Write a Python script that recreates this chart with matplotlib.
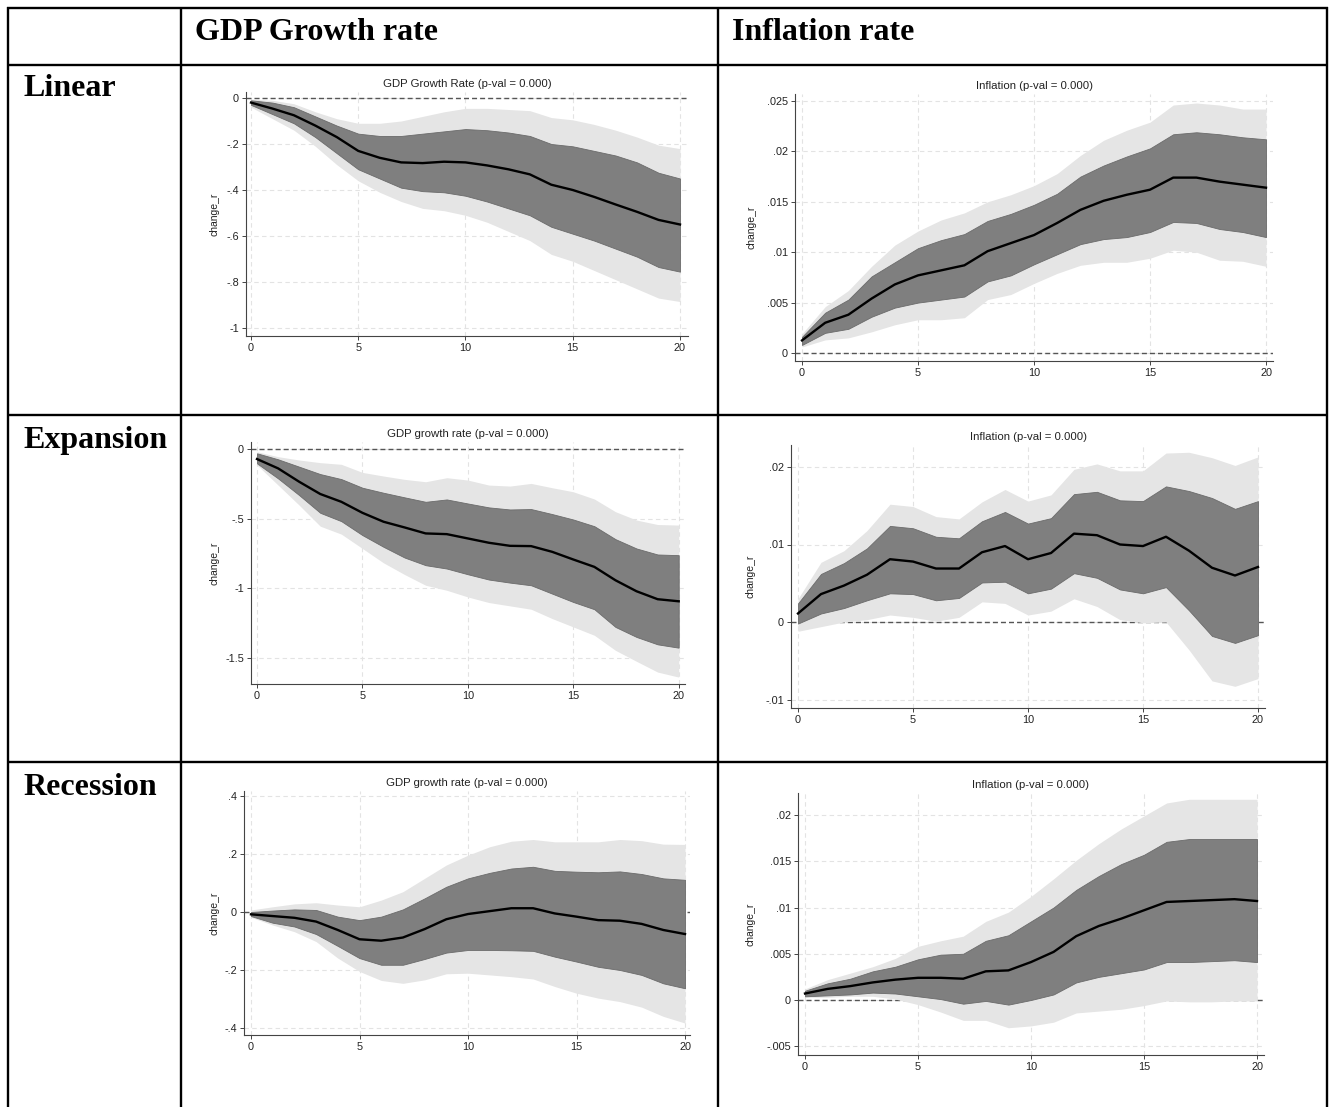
import matplotlib
matplotlib.use("Agg")
import matplotlib.pyplot as plt
from matplotlib.lines import Line2D

W, H = 1331, 1107
horizon = list(range(21))

# ---- GDP growth rate, linear model ----
gdp_lin_mean = [-0.02, -0.046, -0.075, -0.12, -0.17, -0.23, -0.26, -0.28, -0.283, -0.277, -0.28,
                -0.293, -0.31, -0.332, -0.377, -0.40, -0.43, -0.463, -0.495, -0.53, -0.55]
gdp_lin_in_hi = [-0.01, -0.02, -0.04, -0.08, -0.12, -0.155, -0.165, -0.165, -0.155, -0.145, -0.135,
                 -0.14, -0.15, -0.165, -0.20, -0.21, -0.23, -0.25, -0.28, -0.325, -0.35]
gdp_lin_in_lo = [-0.03, -0.07, -0.11, -0.17, -0.24, -0.31, -0.35, -0.39, -0.405, -0.41, -0.425,
                 -0.45, -0.48, -0.51, -0.56, -0.59, -0.62, -0.655, -0.69, -0.735, -0.755]
gdp_lin_out_hi = [-0.005, -0.01, -0.025, -0.06, -0.09, -0.11, -0.11, -0.10, -0.08, -0.06, -0.045,
                  -0.045, -0.05, -0.055, -0.085, -0.095, -0.115, -0.14, -0.17, -0.205, -0.22]
gdp_lin_out_lo = [-0.04, -0.09, -0.14, -0.21, -0.29, -0.36, -0.41, -0.45, -0.48, -0.49, -0.51,
                  -0.54, -0.58, -0.62, -0.68, -0.71, -0.75, -0.79, -0.83, -0.87, -0.885]

# ---- Inflation, linear model ----
inf_lin_mean = [0.00125, 0.003, 0.0038, 0.0054, 0.0068, 0.0077, 0.0082, 0.0087, 0.0101, 0.0109, 0.0117,
                0.0129, 0.0142, 0.0151, 0.0157, 0.0162, 0.0174, 0.0174, 0.0170, 0.0167, 0.0164]
inf_lin_in_hi = [0.0016, 0.0040, 0.0053, 0.0076, 0.0090, 0.0104, 0.0112, 0.0118, 0.0131, 0.0138, 0.0147,
                 0.0158, 0.0175, 0.0186, 0.0195, 0.0203, 0.0217, 0.0219, 0.0217, 0.0214, 0.0212]
inf_lin_in_lo = [0.0008, 0.0020, 0.0024, 0.0036, 0.0045, 0.0050, 0.0053, 0.0056, 0.0071, 0.0077, 0.0088,
                 0.0098, 0.0108, 0.0113, 0.0115, 0.0120, 0.0130, 0.0129, 0.0123, 0.0120, 0.0115]
inf_lin_out_hi = [0.0019, 0.0046, 0.0062, 0.0086, 0.0107, 0.0121, 0.0132, 0.0139, 0.0150, 0.0157, 0.0166,
                  0.0178, 0.0196, 0.0211, 0.0221, 0.0229, 0.0246, 0.0248, 0.0246, 0.0242, 0.0242]
inf_lin_out_lo = [0.0006, 0.0013, 0.0015, 0.0021, 0.0028, 0.0033, 0.0033, 0.0035, 0.0053, 0.0058, 0.0069,
                  0.0079, 0.0087, 0.0090, 0.0090, 0.0094, 0.0102, 0.0100, 0.0092, 0.0091, 0.0086]

# ---- GDP growth rate, expansion regime ----
gdp_exp_mean = [-0.072, -0.139, -0.235, -0.323, -0.379, -0.458, -0.522, -0.563, -0.606, -0.611, -0.642,
                -0.673, -0.695, -0.697, -0.738, -0.793, -0.846, -0.942, -1.021, -1.078, -1.093]
gdp_exp_in_hi = [-0.031, -0.074, -0.127, -0.180, -0.216, -0.278, -0.314, -0.347, -0.379, -0.362, -0.391,
                 -0.419, -0.434, -0.431, -0.467, -0.506, -0.554, -0.647, -0.714, -0.757, -0.762]
gdp_exp_in_lo = [-0.103, -0.211, -0.331, -0.458, -0.518, -0.618, -0.702, -0.779, -0.834, -0.858, -0.899,
                 -0.937, -0.959, -0.978, -1.038, -1.098, -1.150, -1.277, -1.349, -1.402, -1.426]
gdp_exp_out_hi = [-0.020, -0.055, -0.079, -0.098, -0.110, -0.168, -0.194, -0.218, -0.235, -0.206, -0.223,
                  -0.259, -0.266, -0.247, -0.278, -0.307, -0.359, -0.450, -0.510, -0.542, -0.546]
gdp_exp_out_lo = [-0.115, -0.259, -0.403, -0.554, -0.611, -0.714, -0.817, -0.901, -0.978, -1.014, -1.062,
                  -1.102, -1.126, -1.150, -1.217, -1.277, -1.337, -1.445, -1.524, -1.601, -1.637]

# ---- Inflation, expansion regime ----
inf_exp_mean = [0.0011, 0.0036, 0.0047, 0.0061, 0.0081, 0.0078, 0.0069, 0.0069, 0.0090, 0.0098, 0.0081,
                0.0089, 0.0114, 0.0112, 0.0100, 0.0098, 0.0110, 0.0092, 0.0070, 0.0060, 0.0071]
inf_exp_in_hi = [0.0024, 0.0062, 0.0076, 0.0095, 0.0124, 0.0121, 0.0110, 0.0108, 0.0130, 0.0142, 0.0127,
                 0.0134, 0.0165, 0.0168, 0.0157, 0.0156, 0.0175, 0.0169, 0.0160, 0.0146, 0.0156]
inf_exp_in_lo = [-0.0002, 0.0011, 0.0018, 0.0028, 0.0037, 0.0036, 0.0028, 0.0031, 0.0051, 0.0052, 0.0037,
                 0.0043, 0.0063, 0.0057, 0.0042, 0.0037, 0.0045, 0.0015, -0.0018, -0.0027, -0.0017]
inf_exp_out_hi = [0.0030, 0.0077, 0.0092, 0.0118, 0.0152, 0.0149, 0.0136, 0.0133, 0.0155, 0.0171, 0.0156,
                  0.0164, 0.0197, 0.0204, 0.0195, 0.0195, 0.0218, 0.0219, 0.0212, 0.0202, 0.0213]
inf_exp_out_lo = [-0.0012, -0.0006, 0.0000, 0.0003, 0.0009, 0.0006, 0.0001, 0.0006, 0.0026, 0.0024, 0.0009,
                  0.0014, 0.0030, 0.0020, 0.0003, -0.0001, 0.0000, -0.0036, -0.0076, -0.0083, -0.0073]

# ---- GDP growth rate, recession regime ----
gdp_rec_mean = [-0.008, -0.014, -0.020, -0.033, -0.062, -0.094, -0.099, -0.088, -0.059, -0.025, -0.007,
                0.003, 0.013, 0.013, -0.005, -0.016, -0.028, -0.030, -0.041, -0.062, -0.076]
gdp_rec_in_hi = [0.000, 0.005, 0.009, 0.007, -0.016, -0.028, -0.016, 0.009, 0.047, 0.087, 0.116,
                 0.135, 0.150, 0.156, 0.142, 0.139, 0.137, 0.140, 0.131, 0.116, 0.111]
gdp_rec_in_lo = [-0.014, -0.037, -0.050, -0.076, -0.117, -0.159, -0.182, -0.182, -0.162, -0.140, -0.131,
                 -0.131, -0.132, -0.134, -0.154, -0.171, -0.189, -0.200, -0.217, -0.246, -0.263]
gdp_rec_out_hi = [0.007, 0.018, 0.028, 0.032, 0.024, 0.018, 0.041, 0.070, 0.116, 0.162, 0.196,
                  0.225, 0.244, 0.250, 0.242, 0.242, 0.242, 0.250, 0.246, 0.234, 0.233]
gdp_rec_out_lo = [-0.018, -0.045, -0.068, -0.102, -0.159, -0.205, -0.236, -0.246, -0.234, -0.213, -0.211,
                  -0.217, -0.223, -0.231, -0.257, -0.280, -0.297, -0.309, -0.328, -0.360, -0.383]

# ---- Inflation, recession regime ----
inf_rec_mean = [0.0007, 0.0012, 0.0015, 0.0019, 0.0022, 0.0024, 0.0024, 0.0023, 0.0031, 0.0032, 0.0041,
                0.0052, 0.0069, 0.0080, 0.0088, 0.0097, 0.0106, 0.0107, 0.0108, 0.0109, 0.0107]
inf_rec_in_hi = [0.0010, 0.0018, 0.0023, 0.0031, 0.0036, 0.0044, 0.0049, 0.0050, 0.0064, 0.0070, 0.0085,
                 0.0100, 0.0119, 0.0134, 0.0147, 0.0157, 0.0171, 0.0174, 0.0174, 0.0174, 0.0174]
inf_rec_in_lo = [0.0004, 0.0005, 0.0006, 0.0008, 0.0007, 0.0004, 0.0001, -0.0004, -0.0001, -0.0005, 0.0000,
                 0.0006, 0.0019, 0.0025, 0.0029, 0.0033, 0.0041, 0.0041, 0.0042, 0.0043, 0.0041]
inf_rec_out_hi = [0.0012, 0.0022, 0.0029, 0.0036, 0.0045, 0.0058, 0.0064, 0.0069, 0.0085, 0.0095, 0.0112,
                  0.0131, 0.0151, 0.0169, 0.0185, 0.0199, 0.0213, 0.0217, 0.0217, 0.0217, 0.0217]
inf_rec_out_lo = [0.0003, 0.0003, 0.0004, 0.0004, 0.0001, -0.0005, -0.0013, -0.0022, -0.0022, -0.0030, -0.0028,
                  -0.0024, -0.0014, -0.0012, -0.0010, -0.0006, -0.0001, -0.0002, -0.0002, -0.0001, -0.0001]

# ---- axis ticks and labels ----
x_ticks = [0, 5, 10, 15, 20]
x_labels = ["0", "5", "10", "15", "20"]
gdp_lin_yticks = [0, -0.2, -0.4, -0.6, -0.8, -1]
gdp_lin_ylabels = ["0", "-.2", "-.4", "-.6", "-.8", "-1"]
inf_lin_yticks = [0, 0.005, 0.01, 0.015, 0.02, 0.025]
inf_lin_ylabels = ["0", ".005", ".01", ".015", ".02", ".025"]
gdp_exp_yticks = [0, -0.5, -1, -1.5]
gdp_exp_ylabels = ["0", "-.5", "-1", "-1.5"]
inf_exp_yticks = [-0.01, 0, 0.01, 0.02]
inf_exp_ylabels = ["-.01", "0", ".01", ".02"]
gdp_rec_yticks = [-0.4, -0.2, 0, 0.2, 0.4]
gdp_rec_ylabels = ["-.4", "-.2", "0", ".2", ".4"]
inf_rec_yticks = [-0.005, 0, 0.005, 0.01, 0.015, 0.02]
inf_rec_ylabels = ["-.005", "0", ".005", ".01", ".015", ".02"]

col_headers = ["GDP Growth rate", "Inflation rate"]
row_headers = ["Linear", "Expansion", "Recession"]
panel_titles = ["GDP Growth Rate (p-val = 0.000)", "Inflation (p-val = 0.000)",
                "GDP growth rate (p-val = 0.000)", "Inflation (p-val = 0.000)",
                "GDP growth rate (p-val = 0.000)", "Inflation (p-val = 0.000)"]
y_title = "change_r"

SANS = ["Liberation Sans", "DejaVu Sans"]
SERIF = ["Liberation Serif", "DejaVu Serif"]

fig = plt.figure(figsize=(W / 100, H / 100), dpi=100)
fig.patch.set_facecolor("white")


def fx(px):
    return px / W


def fy(py):
    return 1 - py / H


# ---- table rules ----
rule_kw = dict(color="black", lw=1.7, solid_capstyle="butt")
for ypx in (8, 65, 415, 762):
    fig.add_artist(Line2D([fx(7), fx(1328)], [fy(ypx), fy(ypx)], transform=fig.transFigure, **rule_kw))
for xpx in (8, 181, 718, 1327):
    fig.add_artist(Line2D([fx(xpx), fx(xpx)], [fy(7), fy(H + 2)], transform=fig.transFigure, **rule_kw))

# ---- header cells ----
head_kw = dict(family=SERIF, fontweight="bold", fontsize=23, color="black",
               ha="left", va="baseline", transform=fig.transFigure)
fig.text(fx(195), fy(40), col_headers[0], **head_kw)
fig.text(fx(732), fy(40), col_headers[1], **head_kw)
for txt, base in zip(row_headers, (96, 448, 795)):
    fig.text(fx(23), fy(base), txt, **head_kw)

LIGHT = "#e5e5e5"
DARK = "#7f7f7f"
GRID = "#e3e3e3"
AXC = "#444444"

panels = [
    dict(box=(246, 92, 688, 336), xpx=(251, 680), ypx=((98, 0), (328, -1)),
         mean=gdp_lin_mean, ih=gdp_lin_in_hi, il=gdp_lin_in_lo, oh=gdp_lin_out_hi, ol=gdp_lin_out_lo,
         yt=gdp_lin_yticks, yl=gdp_lin_ylabels, title=panel_titles[0], ylab_px=219),
    dict(box=(795, 94, 1273, 361), xpx=(802, 1266), ypx=((353, 0), (101, 0.025)),
         mean=inf_lin_mean, ih=inf_lin_in_hi, il=inf_lin_in_lo, oh=inf_lin_out_hi, ol=inf_lin_out_lo,
         yt=inf_lin_yticks, yl=inf_lin_ylabels, title=panel_titles[1], ylab_px=756),
    dict(box=(251, 442, 685, 684), xpx=(257, 678.7), ypx=((449, 0), (658, -1.5)),
         mean=gdp_exp_mean, ih=gdp_exp_in_hi, il=gdp_exp_in_lo, oh=gdp_exp_out_hi, ol=gdp_exp_out_lo,
         yt=gdp_exp_yticks, yl=gdp_exp_ylabels, title=panel_titles[2], ylab_px=219),
    dict(box=(791, 445, 1265, 708), xpx=(798, 1258), ypx=((622, 0), (467, 0.02)),
         mean=inf_exp_mean, ih=inf_exp_in_hi, il=inf_exp_in_lo, oh=inf_exp_out_hi, ol=inf_exp_out_lo,
         yt=inf_exp_yticks, yl=inf_exp_ylabels, title=panel_titles[3], ylab_px=756),
    dict(box=(244, 791, 690, 1035), xpx=(251, 685), ypx=((912, 0), (796, 0.4)),
         mean=gdp_rec_mean, ih=gdp_rec_in_hi, il=gdp_rec_in_lo, oh=gdp_rec_out_hi, ol=gdp_rec_out_lo,
         yt=gdp_rec_yticks, yl=gdp_rec_ylabels, title=panel_titles[4], ylab_px=219),
    dict(box=(798, 793, 1264, 1055), xpx=(805, 1257), ypx=((1000, 0), (815, 0.02)),
         mean=inf_rec_mean, ih=inf_rec_in_hi, il=inf_rec_in_lo, oh=inf_rec_out_hi, ol=inf_rec_out_lo,
         yt=inf_rec_yticks, yl=inf_rec_ylabels, title=panel_titles[5], ylab_px=756),
]

for p in panels:
    l, t, r, b = p["box"]
    ax = fig.add_axes([fx(l), fy(b), (r - l) / W, (b - t) / H])

    # map the pixel frame to data limits using two known tick positions
    x0p, x20p = p["xpx"]
    sx = (x20p - x0p) / 20.0
    ax.set_xlim((l - x0p) / sx, (r - x0p) / sx)
    (pa, va), (pb, vb) = p["ypx"]
    sy = (pa - pb) / (vb - va)
    ax.set_ylim(va - (b - pa) / sy, va + (pa - t) / sy)

    ax.axhline(0, color="#555555", lw=1.0, ls=(0, (3.6, 2.2)), zorder=1)
    ax.fill_between(horizon, p["ol"], p["oh"], color=LIGHT, lw=0, zorder=2)
    ax.fill_between(horizon, p["il"], p["ih"], facecolor=DARK, edgecolor="#6b6b6b", lw=0.6, zorder=3)
    ax.plot(horizon, p["mean"], color="black", lw=1.7, zorder=4, solid_joinstyle="round")

    ax.set_xticks(x_ticks)
    ax.set_xticklabels(x_labels)
    ax.set_yticks(p["yt"])
    ax.set_yticklabels(p["yl"])
    ax.grid(True, color=GRID, lw=0.8, ls=(0, (4, 3)), zorder=0)
    ax.set_axisbelow(True)

    for s in ("top", "right"):
        ax.spines[s].set_visible(False)
    for s in ("left", "bottom"):
        ax.spines[s].set_color(AXC)
        ax.spines[s].set_linewidth(0.8)
    ax.tick_params(axis="both", direction="out", length=3, width=0.7, color=AXC,
                   labelsize=7.8, labelcolor="#222222", pad=2)
    for lab in ax.get_xticklabels() + ax.get_yticklabels():
        lab.set_family(SANS)

    ax.set_title(p["title"], family=SANS, fontsize=8.2, color="#222222", pad=3.5)
    ax.set_ylabel(y_title, family=SANS, fontsize=7.5, color="#222222")
    ax.yaxis.set_label_coords((p["ylab_px"] - l) / (r - l), 0.5)

fig.savefig("out.png", dpi=100, facecolor="white")
